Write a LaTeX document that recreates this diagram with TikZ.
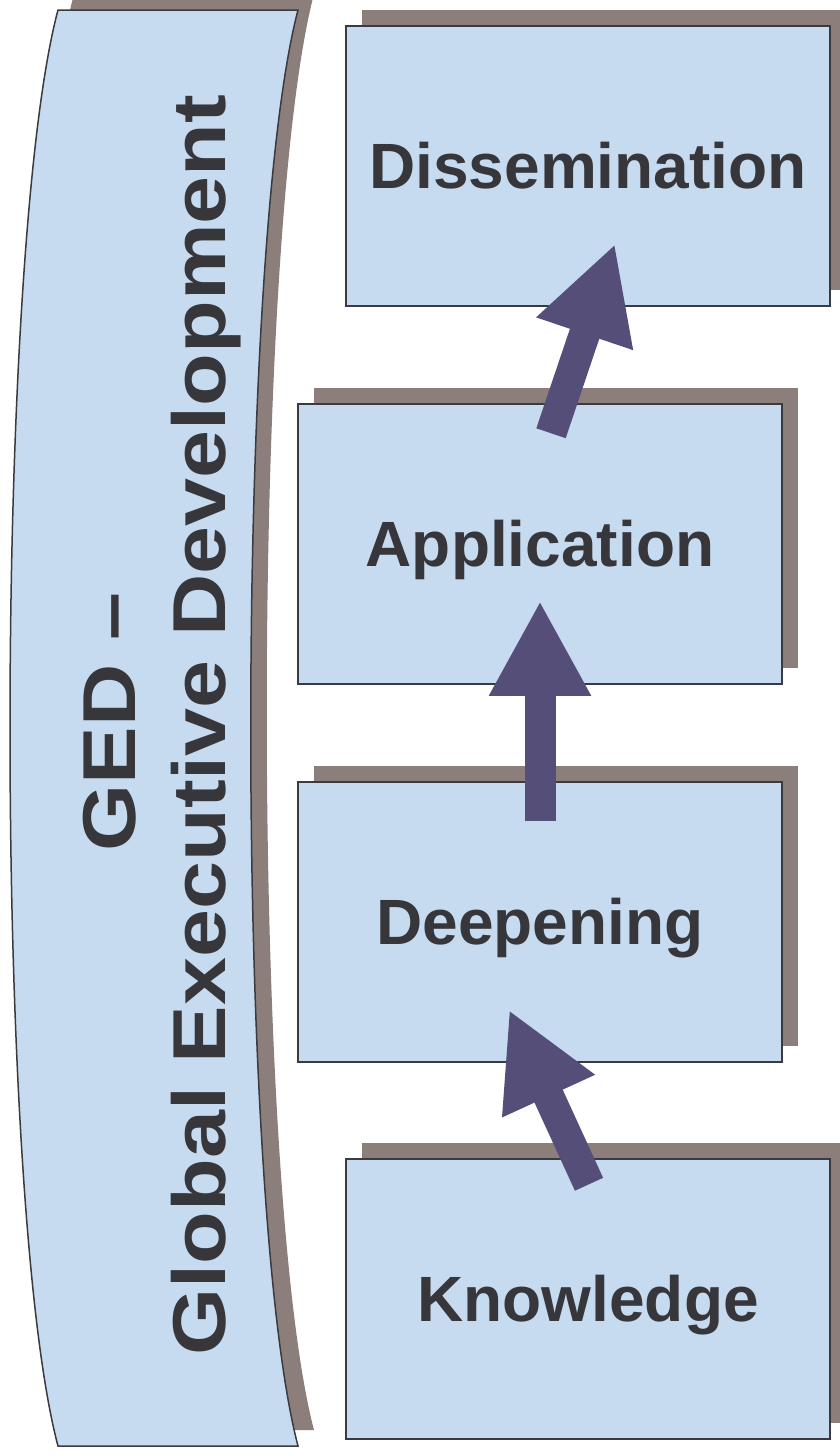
\documentclass[tikz,border=0pt]{standalone}
\usepackage{fontspec}
\setmainfont{Liberation Sans}
\newfontfamily\bannerfont{Liberation Sans}[FakeStretch=1.15]
\usepackage{xcolor}
\usepackage{tikz}
\usetikzlibrary{arrows.meta,positioning,shadows}

\definecolor{boxblue}{HTML}{C6DBF0}
\definecolor{shadowgray}{HTML}{8C7F7B}
\definecolor{arrowpurple}{HTML}{544E78}
\definecolor{inkgray}{HTML}{37363B}
\definecolor{edgegray}{HTML}{3A3A40}

\begin{document}
\begin{tikzpicture}[
    x=1pt, y=-1pt,
    node distance=96.5pt,
    backshadow/.style={drop shadow={shadow xshift=16pt, shadow yshift=16pt, fill=shadowgray, opacity=1}},
    stage/.style={rectangle, draw=edgegray, line width=1.5pt, fill=boxblue, backshadow,
        minimum width=484pt, minimum height=280pt, text=inkgray,
        font=\fontsize{64pt}{77pt}\selectfont\bfseries, text height=45.8pt, text depth=0pt},
    banner/.style={draw=edgegray, line width=1.5pt, fill=boxblue, backshadow},
    bannertext/.style={rotate=90, anchor=base, text=inkgray, font=\bannerfont\fontsize{75pt}{90pt}\selectfont\bfseries},
    bigarrow/.style={draw=arrowpurple, line width=31pt, -{Triangle[width=95pt,length=95pt]}}
]
\useasboundingbox (0,0) rectangle (840,1456);

% left banner
\path[banner] (58,10) -- (298,10) .. controls (235,250) and (235,1206) .. (298,1446)
    -- (58,1446) .. controls (-6,1206) and (-6,250) .. (58,10) -- cycle;
\node[bannertext] (gedshort) at (135,722) {GED –};
\node[bannertext] (gedlong) at (225,725) {Global Executive Development};

% stages
\node[stage] (dissem) at (588,166) {Dissemination};
\node[stage, below=of dissem, xshift=-48pt] (appl) {Application};
\node[stage, below=of appl] (deep) {Deepening};
\node[stage, below=95.5pt of deep, xshift=48pt] (know) {Knowledge};

% arrow ends
\coordinate (knowtail) at ([xshift=1pt,yshift=-26pt]know.north);
\coordinate (deeptip) at ([xshift=-31pt,yshift=53pt]deep.south);
\coordinate (deeptail) at ([yshift=-40pt]deep.north);
\coordinate (appltip) at ([yshift=84pt]appl.south);
\coordinate (appltail) at ([xshift=11pt,yshift=-30pt]appl.north);
\coordinate (dissemtip) at ([xshift=27pt,yshift=63pt]dissem.south);

\draw[bigarrow] (knowtail) -- (deeptip);
\draw[bigarrow] (deeptail) -- (appltip);
\draw[bigarrow] (appltail) -- (dissemtip);
\end{tikzpicture}
\end{document}
